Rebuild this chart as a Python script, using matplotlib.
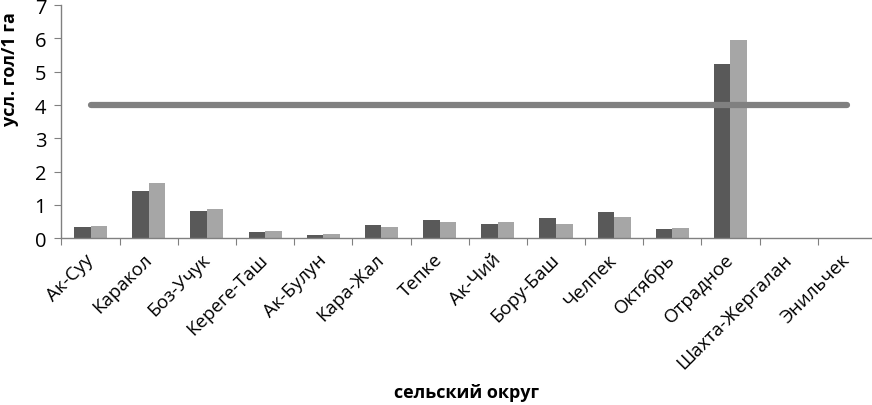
import matplotlib
matplotlib.use("Agg")
import matplotlib.pyplot as plt
import numpy as np

plt.rcParams['font.family'] = ['Open Sans', 'DejaVu Sans']

categories = ["Ак-Суу", "Каракол", "Боз-Учук", "Кереге-Таш", "Ак-Булун", "Кара-Жал",
              "Тепке", "Ак-Чий", "Бору-Баш", "Челпек", "Октябрь", "Отрадное",
              "Шахта-Жергалан", "Энильчек"]
series_a = [0.35, 1.42, 0.81, 0.19, 0.10, 0.39, 0.55, 0.43, 0.61, 0.78, 0.28, 5.24, 0.0, 0.0]
series_b = [0.38, 1.66, 0.89, 0.21, 0.14, 0.34, 0.49, 0.49, 0.43, 0.63, 0.32, 5.94, 0.0, 0.0]
norm = [4] * len(categories)
yticks = [0, 1, 2, 3, 4, 5, 6, 7]

fig = plt.figure(figsize=(8.72, 4.06), dpi=100)
ax = fig.add_axes([0.0705, 0.4106, 0.934, 0.5744])

x = np.arange(len(categories))
w = 0.285
ax.bar(x - w / 2, series_a, width=w, color='#595959', zorder=2)
ax.bar(x + w / 2, series_b, width=w, color='#a6a6a6', zorder=2)
ax.plot(x, norm, color='#808080', lw=4.5, solid_capstyle='round', zorder=3)

ax.set_xlim(-0.5, len(categories) - 0.5)
ax.set_ylim(0, 7)
ax.set_yticks(yticks)
ax.set_yticklabels([str(v) for v in yticks], fontsize=14.5)
ax.set_xticks(np.arange(len(categories) + 1) - 0.5)
ax.set_xticklabels([])
ax.set_xticks(x, minor=True)
ax.set_xticklabels(categories, minor=True, rotation=45, ha='right', va='center',
                   rotation_mode='anchor', fontsize=13.5)
ax.tick_params(axis='x', which='minor', length=0, pad=13)
ax.tick_params(axis='x', which='major', length=5, color='#808080', direction='out')
ax.tick_params(axis='y', length=5, color='#808080', direction='out', pad=6)

for s in ['top', 'right']:
    ax.spines[s].set_visible(False)
for s in ['left', 'bottom']:
    ax.spines[s].set_color('#808080')
    ax.spines[s].set_linewidth(1.0)

ax.set_ylabel("усл. гол/1 га", fontsize=13, fontweight='bold')
ax.yaxis.set_label_coords(-0.052, 0.73)
fig.text(0.535, 0.032, "сельский округ", ha='center', va='center', fontsize=13, fontweight='bold')

fig.savefig("out.png", dpi=100)
